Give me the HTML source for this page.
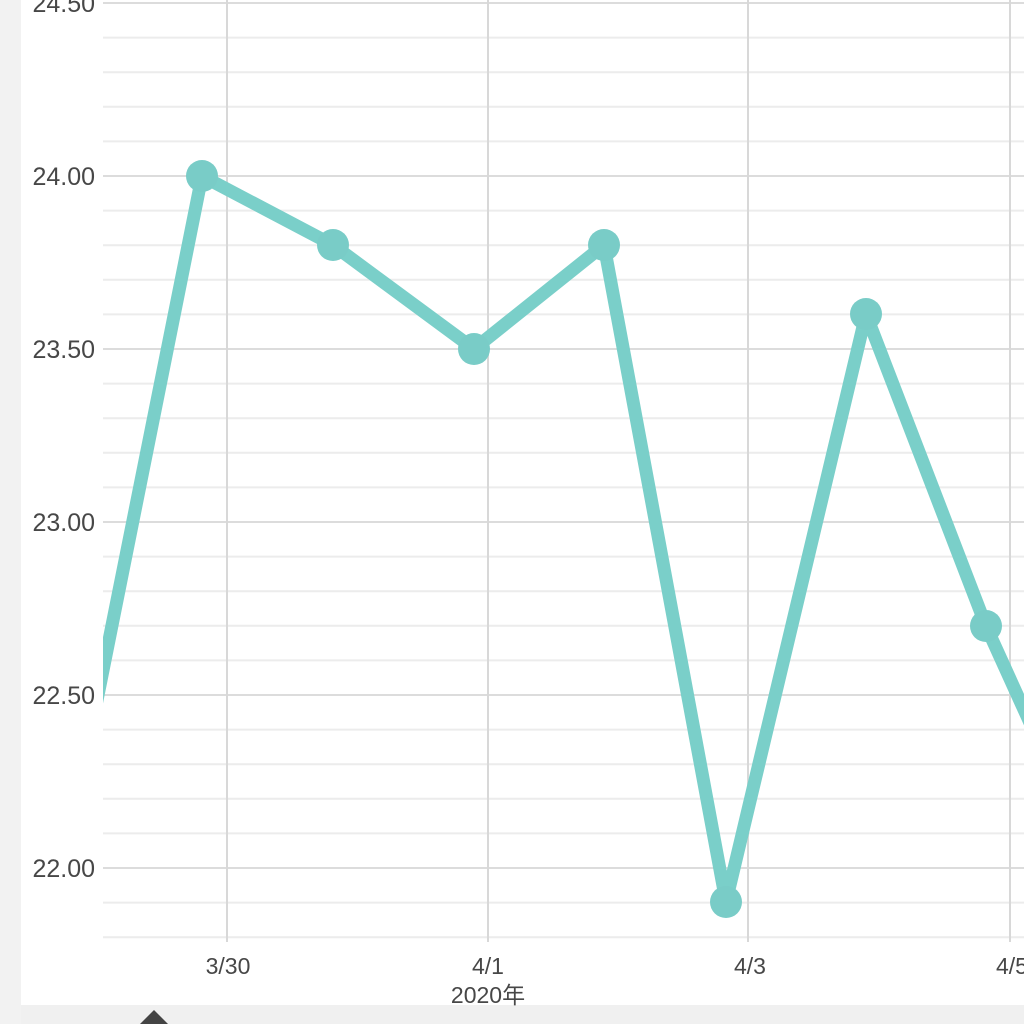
<!DOCTYPE html>
<html>
<head>
<meta charset="utf-8">
<style>
html,body{margin:0;padding:0;width:1024px;height:1024px;overflow:hidden;background:#f0f0f0;}
svg{display:block;}
text{font-family:"Liberation Sans","Noto Sans CJK JP",sans-serif;fill:#474747;}
</style>
</head>
<body>
<svg width="1024" height="1024" viewBox="0 0 1024 1024" xmlns="http://www.w3.org/2000/svg">
  <rect x="0" y="0" width="1024" height="1024" fill="#f0f0f0"/>
  <rect x="0" y="0" width="21" height="1024" fill="#f2f2f2"/>
  <rect x="21" y="0" width="1003" height="1005" fill="#ffffff"/>

  <!-- minor gridlines -->
  <g stroke="#ececec" stroke-width="2">
    <line x1="103" y1="37.6" x2="1024" y2="37.6"/>
    <line x1="103" y1="72.2" x2="1024" y2="72.2"/>
    <line x1="103" y1="106.8" x2="1024" y2="106.8"/>
    <line x1="103" y1="141.4" x2="1024" y2="141.4"/>
    <line x1="103" y1="210.6" x2="1024" y2="210.6"/>
    <line x1="103" y1="245.2" x2="1024" y2="245.2"/>
    <line x1="103" y1="279.8" x2="1024" y2="279.8"/>
    <line x1="103" y1="314.4" x2="1024" y2="314.4"/>
    <line x1="103" y1="383.6" x2="1024" y2="383.6"/>
    <line x1="103" y1="418.2" x2="1024" y2="418.2"/>
    <line x1="103" y1="452.8" x2="1024" y2="452.8"/>
    <line x1="103" y1="487.4" x2="1024" y2="487.4"/>
    <line x1="103" y1="556.6" x2="1024" y2="556.6"/>
    <line x1="103" y1="591.2" x2="1024" y2="591.2"/>
    <line x1="103" y1="625.8" x2="1024" y2="625.8"/>
    <line x1="103" y1="660.4" x2="1024" y2="660.4"/>
    <line x1="103" y1="729.6" x2="1024" y2="729.6"/>
    <line x1="103" y1="764.2" x2="1024" y2="764.2"/>
    <line x1="103" y1="798.8" x2="1024" y2="798.8"/>
    <line x1="103" y1="833.4" x2="1024" y2="833.4"/>
    <line x1="103" y1="902.6" x2="1024" y2="902.6"/>
    <line x1="103" y1="937.2" x2="1024" y2="937.2"/>
  </g>
  <!-- major gridlines -->
  <g stroke="#dcdcdc" stroke-width="2">
    <line x1="103" y1="3" x2="1024" y2="3"/>
    <line x1="103" y1="176" x2="1024" y2="176"/>
    <line x1="103" y1="349" x2="1024" y2="349"/>
    <line x1="103" y1="522" x2="1024" y2="522"/>
    <line x1="103" y1="695" x2="1024" y2="695"/>
    <line x1="103" y1="868" x2="1024" y2="868"/>
  </g>
  <!-- vertical gridlines -->
  <g stroke="#d8d8d8" stroke-width="2">
    <line x1="227" y1="0" x2="227" y2="942"/>
    <line x1="488" y1="0" x2="488" y2="942"/>
    <line x1="748" y1="0" x2="748" y2="942"/>
    <line x1="1010" y1="0" x2="1010" y2="942"/>
  </g>

  <!-- y labels -->
  <g font-size="25" text-anchor="end">
    <text x="95" y="12">24.50</text>
    <text x="95" y="185">24.00</text>
    <text x="95" y="358">23.50</text>
    <text x="95" y="531">23.00</text>
    <text x="95" y="704">22.50</text>
    <text x="95" y="877">22.00</text>
  </g>
  <!-- x labels -->
  <g font-size="23" text-anchor="middle">
    <text x="228" y="974">3/30</text>
    <text x="488" y="974">4/1</text>
    <text x="488" y="1003">2020年</text>
    <text x="750" y="974">4/3</text>
    <text x="1012" y="974">4/5</text>
  </g>

  <defs>
    <clipPath id="plot"><rect x="103" y="0" width="921" height="1005"/></clipPath>
  </defs>
  <g clip-path="url(#plot)">
    <polyline fill="none" stroke="#7acfc9" stroke-width="13" stroke-linejoin="round" stroke-linecap="round"
      points="72,825 202,176 333,245 474,349 604,245 726,902 866,314 986,626 1100,877"/>
    <g fill="#79ccc7">
      <circle cx="202" cy="176" r="16"/>
      <circle cx="333" cy="245" r="16"/>
      <circle cx="474" cy="349" r="16"/>
      <circle cx="604" cy="245" r="16"/>
      <circle cx="726" cy="902" r="16"/>
      <circle cx="866" cy="314" r="16"/>
      <circle cx="986" cy="626" r="16"/>
    </g>
  </g>

  <!-- small indicator triangle -->
  <polygon points="154,1010 140,1024 168,1024" fill="#444444"/>
</svg>
</body>
</html>
